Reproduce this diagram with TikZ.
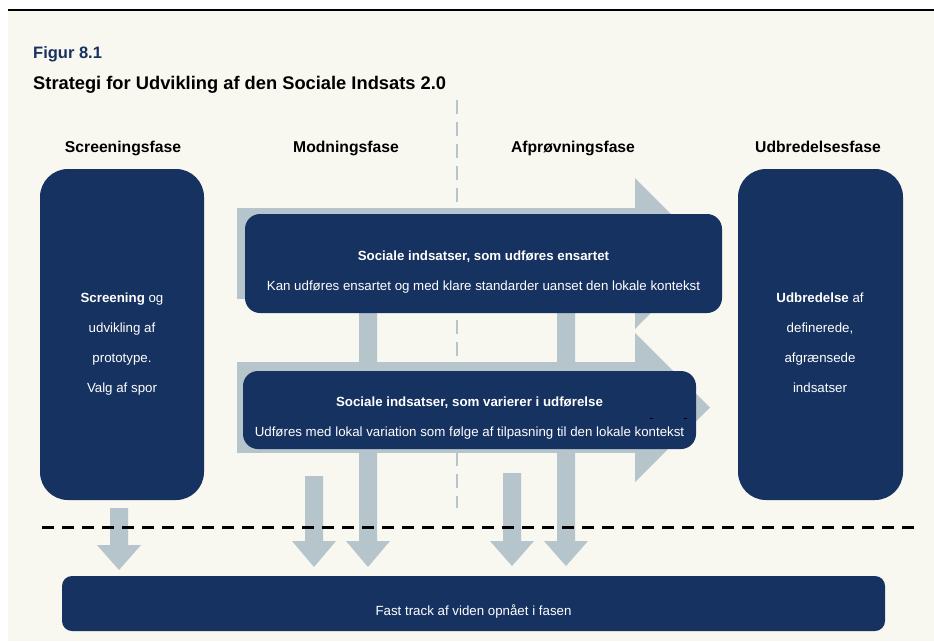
\documentclass[tikz,border=0pt]{standalone}
\usepackage{fontspec}
\setmainfont{Liberation Sans}
\definecolor{navy}{RGB}{22,50,96}
\definecolor{arrowgray}{RGB}{181,197,203}
\definecolor{cream}{RGB}{248,247,240}
\newcommand\downblock[4]{%
  \fill[grayarrow] ({#1-9},#2) -- ({#1+9},#2) -- ({#1+9},#3) -- ({#1+22},#3)
    -- (#1,#4) -- ({#1-22},#3) -- ({#1-9},#3) -- cycle;}
\tikzset{
  navybox/.style={fill=navy, draw=none, rectangle, inner sep=0pt},
  grayarrow/.style={fill=arrowgray, draw=none},
  boxtext/.style={text=white, font=\fontsize{13.3}{16}\selectfont, anchor=base, inner sep=0pt},
  boldtext/.style={boxtext, font=\fontsize{13.3}{16}\selectfont\bfseries},
  phase/.style={text=black, font=\fontsize{15.7}{18}\selectfont\bfseries, anchor=base, inner sep=0pt},
  phaseline/.style={draw=arrowgray, line width=2.5pt, dash pattern=on 14pt off 8pt},
  cutline/.style={draw=black, line width=3pt, dash pattern=on 12pt off 8pt},
}
\begin{document}
\begin{tikzpicture}[x=1pt,y=-1pt]
\useasboundingbox (0,0) rectangle (934,641);
\fill[white] (0,0) rectangle (934,641);
\fill[cream] (8,11) rectangle (934,641);
\draw[line width=2.5pt] (8,10) -- (934,10);

% titles
\node[anchor=base west, inner sep=0pt, text=navy, font=\fontsize{16.5}{19}\selectfont\bfseries] (fig) at (33,58) {Figur 8.1};
\node[anchor=base west, inner sep=0pt, text=black, font=\fontsize{18.3}{21}\selectfont\bfseries] (title) at (33,89) {Strategi for Udvikling af den Sociale Indsats 2.0};

% phase headers
\node[phase] (h1) at (123,152) {Screeningsfase};
\node[phase] (h2) at (346,152) {Modningsfase};
\node[phase] (h3) at (573,152) {Afprøvningsfase};
\node[phase] (h4) at (818,152) {Udbredelsesfase};

% vertical dashed phase line
\draw[phaseline] (457,100) -- (457,508);

% big right arrows
\fill[grayarrow] (237,208) rectangle (636,299);
\fill[grayarrow] (635,178) -- (710,253.5) -- (635,329) -- cycle;
\fill[grayarrow] (237,362) rectangle (636,453);
\fill[grayarrow] (635,333) -- (710,407.5) -- (635,482) -- cycle;

% down arrows
\downblock{119}{508}{545}{570}
\downblock{314}{476}{541}{567}
\downblock{368}{299}{541}{567}
\downblock{512}{473}{541}{566}
\downblock{566}{299}{541}{566}

% boxes
\node[navybox, rounded corners=28pt, minimum width=164pt, minimum height=331pt] (screen) at (122,334.5) {};
\node[navybox, rounded corners=28pt, minimum width=165pt, minimum height=331pt] (spread) at (820.5,334.5) {};
\node[navybox, rounded corners=15pt, minimum width=477pt, minimum height=99pt] (uniform) at (483.5,263.5) {};
\node[navybox, rounded corners=15pt, minimum width=453pt, minimum height=78pt] (vary) at (469.5,410) {};
\node[navybox, rounded corners=10pt, minimum width=823pt, minimum height=55pt] (fast) at (473.5,603.5) {};

% horizontal dashed line
\draw[cutline] (42,527) -- (914,527);

% box texts
\node[boxtext] (s1) at (122,302) {\textbf{Screening} og};
\node[boxtext] (s2) at (122,332) {udvikling af};
\node[boxtext] (s3) at (122,362) {prototype.};
\node[boxtext] (s4) at (122,392) {Valg af spor};

\node[boxtext] (u1) at (820,302) {\textbf{Udbredelse} af};
\node[boxtext] (u2) at (820,332) {definerede,};
\node[boxtext] (u3) at (820,362) {afgrænsede};
\node[boxtext] (u4) at (820,392) {indsatser};

\node[boldtext] (e1) at (483.5,260) {Sociale indsatser, som udføres ensartet};
\node[boxtext] (e2) at (483.5,290) {Kan udføres ensartet og med klare standarder uanset den lokale kontekst};

\node[boldtext] (v1) at (469.5,406) {Sociale indsatser, som varierer i udførelse};
\node[boxtext] (v2) at (469.5,436) {Udføres med lokal variation som følge af tilpasning til den lokale kontekst};
\draw[line width=0.8pt] (650,418) -- (653,418);
\draw[line width=0.8pt] (684,418) -- (687,418);

\node[boxtext] (f1) at (473.5,615) {Fast track af viden opnået i fasen};
\end{tikzpicture}
\end{document}
